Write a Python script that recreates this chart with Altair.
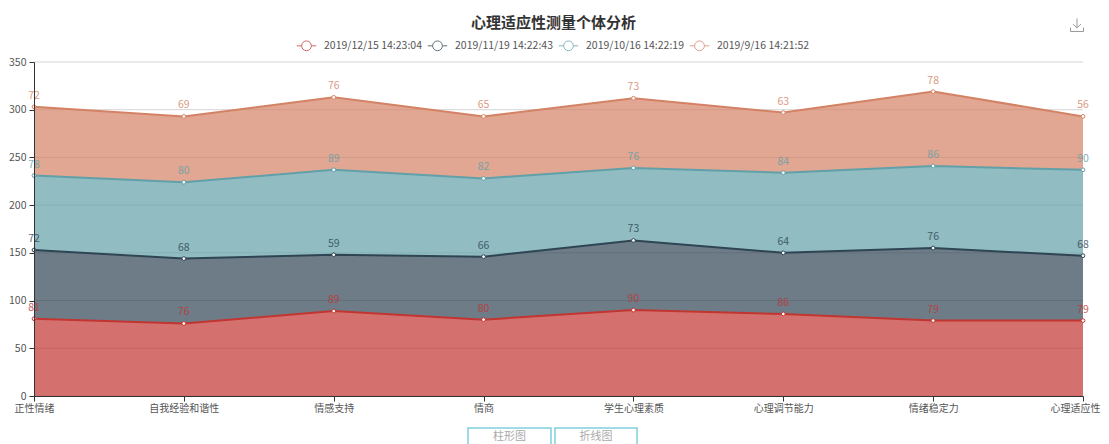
import altair as alt
import pandas as pd

categories = ["正性情绪", "自我经验和谐性", "情感支持", "情商", "学生心理素质", "心理调节能力", "情绪稳定力", "心理适应性"]
series_names = ["2019/12/15 14:23:04", "2019/11/19 14:22:43", "2019/10/16 14:22:19", "2019/9/16 14:21:52"]
colors = ["#c23531", "#2f4554", "#61a0a8", "#d48265"]
s1 = [81, 76, 89, 80, 90, 86, 79, 79]
s2 = [72, 68, 59, 66, 73, 64, 76, 68]
s3 = [78, 80, 89, 82, 76, 84, 86, 90]
s4 = [72, 69, 76, 65, 73, 63, 78, 56]
series_values = [s1, s2, s3, s4]
y_ticks = [0, 50, 100, 150, 200, 250, 300, 350]
buttons = ["柱形图", "折线图"]

rows = []
base = [0] * len(categories)
for name, col, vals in zip(series_names, colors, series_values):
    for i, (c, v) in enumerate(zip(categories, vals)):
        rows.append({"cat": c, "series": name, "col": col, "value": v, "y0": base[i], "y1": base[i] + v})
        base[i] += v
df = pd.DataFrame(rows)

FONT = "Noto Sans CJK SC"
X = alt.X("cat:N", sort=categories, scale=alt.Scale(type="point", padding=0),
          axis=alt.Axis(title=None, labelAngle=0, labelFontSize=10, labelColor="#555", domainColor="#333",
                        tickColor="#333", tickSize=5, grid=False, labelPadding=2, labelFont=FONT, zindex=1,
                        labelOffset=alt.expr("datum.value == '心理适应性' ? -8 : 0")))
y_scale = alt.Scale(domain=[0, 350], nice=False)
y_axis = alt.Axis(title=None, values=y_ticks, labelFontSize=10.5, labelColor="#555",
                  domainColor="#333", tickColor="#333", tickSize=5, grid=False,
                  labelPadding=3, labelFont=FONT, zindex=1)
Y = alt.Y("y1:Q", scale=y_scale, axis=y_axis)
color_scale = alt.Scale(domain=series_names, range=colors)
C = alt.Color("col:N", scale=None)

grid = alt.Chart(pd.DataFrame({"t": y_ticks})).mark_rule(color="#d5d5d5", strokeWidth=1).encode(
    y=alt.Y("t:Q", scale=y_scale, axis=y_axis))
area = alt.Chart(df).mark_area(opacity=0.7, line=False, interpolate="linear").encode(
    x=X, y=Y, y2="y0:Q", color=C, detail="series:N")
line = alt.Chart(df).mark_line(strokeWidth=2, interpolate="linear").encode(x=X, y=Y, color=C, detail="series:N")
points = alt.Chart(df).mark_point(filled=False, fill="white", fillOpacity=1, size=14, strokeWidth=1, opacity=1).encode(
    x=X, y=Y,
    stroke=alt.Stroke("series:N", scale=color_scale, legend=alt.Legend(
        title=None, orient="none", legendX=262, legendY=-27, direction="horizontal", columns=4,
        symbolType="M-1,0H-0.5M0.5,0H1M-0.5,0A0.5,0.5,0,1,1,0.5,0A0.5,0.5,0,1,1,-0.5,0Z",
        symbolSize=380, symbolStrokeWidth=1, symbolFillColor="white", symbolOpacity=0.75,
        labelFontSize=10.5, labelColor="#555", labelFont=FONT, labelOffset=7, columnPadding=2, labelLimit=200)),
)
labels = alt.Chart(df).mark_text(dy=-11, fontSize=10.5, font=FONT, opacity=0.8).encode(
    x=X, y=Y, text="value:Q", color=C)

one = pd.DataFrame({"k": ["x"]})
icon = alt.Chart(one).mark_point(
    shape="M0,-1V0.45M-0.6,-0.15L0,0.45L0.6,-0.15M-1,0.4V1H1V0.4", size=170, strokeWidth=1, color="#999", opacity=1
).encode(x=alt.value(1043), y=alt.value(-37))

btn_layers = []
for label, x0, x1 in zip(buttons, [434, 521], [517, 603]):
    btn_layers.append(alt.Chart(one).mark_rect(fill="white", stroke="#7fd0dc", strokeWidth=1.5).encode(
        x=alt.value(x0), x2=alt.value(x1), y=alt.value(366), y2=alt.value(395)))
    btn_layers.append(alt.Chart(one).mark_text(text=label, fontSize=11, color="#aaa", font=FONT).encode(
        x=alt.value((x0 + x1) / 2), y=alt.value(375)))

chart = alt.layer(grid, area, line, points, labels, icon, *btn_layers).properties(
    width=1049, height=334,
    autosize=alt.AutoSizeParams(type="none"),
    padding={"left": 26, "top": 54, "right": 18, "bottom": 48},
    title=alt.TitleParams("心理适应性测量个体分析", anchor="middle", fontSize=15, fontWeight="bold", color="#333",
                          font=FONT, offset=-15, dx=-5),
).configure_view(stroke=None)

chart.save("out.html", embed_options={"renderer": "svg", "actions": False})
